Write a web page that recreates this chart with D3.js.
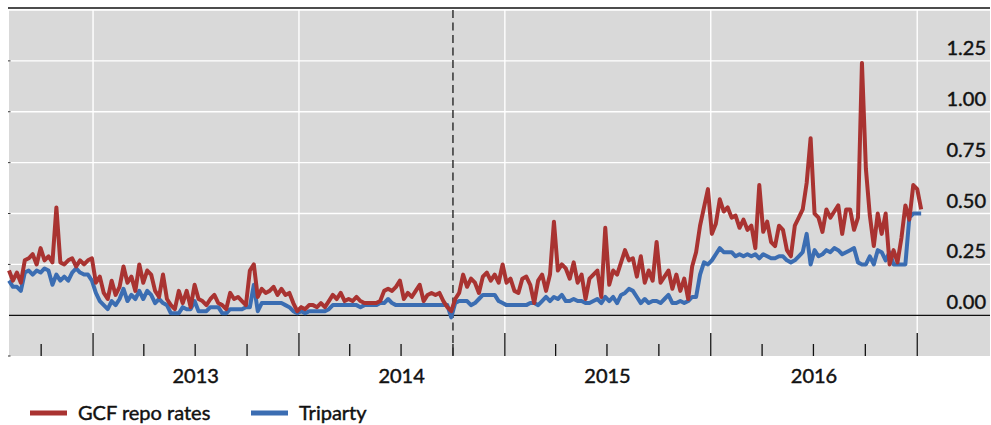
<!DOCTYPE html>
<html>
<head>
<meta charset="utf-8">
<script src="https://cdn.jsdelivr.net/npm/d3@7/dist/d3.min.js"></script>
<style>
  body { margin: 0; background: #fff; }
  text { font-family: Lato, 'Open Sans', sans-serif; fill: #111; stroke: #111; stroke-width: 0.45px; }
</style>
</head>
<body>
<div id="chart"></div>
<script>
// Weekly observations, first week starting 5 Aug 2012
const START = new Date(2012, 7, 5);

// GCF repo rates, %
const gcf2012 = [0.22, 0.17, 0.21, 0.16, 0.27, 0.28, 0.30, 0.25, 0.33, 0.27, 0.29, 0.26, 0.53, 0.26, 0.25, 0.27, 0.28, 0.24, 0.27, 0.25, 0.27];
const gcf2013 = [0.28, 0.16, 0.19, 0.11, 0.08, 0.17, 0.10, 0.14, 0.24, 0.16, 0.19, 0.12, 0.25, 0.16, 0.22, 0.20, 0.12, 0.09, 0.20, 0.08,
                 0.05, 0.03, 0.12, 0.06, 0.12, 0.04, 0.15, 0.08, 0.07, 0.05, 0.08, 0.10, 0.06, 0.05, 0.03, 0.11, 0.08, 0.09, 0.07, 0.05,
                 0.22, 0.25, 0.09, 0.13, 0.11, 0.12, 0.14, 0.10, 0.13, 0.10, 0.11, 0.06];
const gcf2014 = [0.02, 0.04, 0.03, 0.05, 0.05, 0.04, 0.06, 0.04, 0.07, 0.10, 0.08, 0.11, 0.07, 0.08, 0.07, 0.09, 0.07, 0.06, 0.06, 0.06,
                 0.06, 0.07, 0.12, 0.13, 0.12, 0.14, 0.17, 0.08, 0.11, 0.09, 0.12, 0.15, 0.07, 0.10, 0.11, 0.10, 0.11, 0.07, 0.04, 0.02,
                 0.08, 0.11, 0.20, 0.14, 0.18, 0.16, 0.11, 0.19, 0.21, 0.17, 0.20, 0.16];
const gcf2015 = [0.25, 0.16, 0.18, 0.12, 0.11, 0.18, 0.19, 0.15, 0.06, 0.17, 0.20, 0.12, 0.20, 0.46, 0.22, 0.25, 0.23, 0.18, 0.26, 0.16,
                 0.20, 0.08, 0.18, 0.20, 0.22, 0.09, 0.43, 0.15, 0.22, 0.20, 0.26, 0.32, 0.27, 0.28, 0.19, 0.29, 0.16, 0.22, 0.17, 0.36,
                 0.16, 0.19, 0.22, 0.13, 0.20, 0.12, 0.18, 0.08, 0.24, 0.31, 0.44, 0.53];
const gcf2016 = [0.62, 0.40, 0.45, 0.57, 0.51, 0.53, 0.48, 0.49, 0.43, 0.47, 0.42, 0.44, 0.33, 0.64, 0.41, 0.46, 0.36, 0.34, 0.44, 0.42,
                 0.32, 0.29, 0.44, 0.48, 0.52, 0.65, 0.87, 0.50, 0.48, 0.41, 0.52, 0.48, 0.51, 0.54, 0.40, 0.52, 0.52, 0.42, 0.48, 1.24,
                 0.72, 0.49, 0.34, 0.50, 0.40, 0.50, 0.25, 0.32, 0.26, 0.38, 0.54, 0.47];
const gcf2017 = [0.64, 0.62, 0.52];

// Triparty repo rates, %
const tri2012 = [0.17, 0.14, 0.14, 0.12, 0.21, 0.22, 0.20, 0.22, 0.21, 0.23, 0.22, 0.15, 0.20, 0.17, 0.19, 0.17, 0.21, 0.23, 0.21, 0.20, 0.20];
const tri2013 = [0.17, 0.11, 0.07, 0.05, 0.03, 0.07, 0.05, 0.08, 0.13, 0.07, 0.10, 0.08, 0.12, 0.08, 0.12, 0.10, 0.06, 0.08, 0.06, 0.05,
                 0.01, 0.01, 0.01, 0.04, 0.03, 0.03, 0.07, 0.02, 0.02, 0.02, 0.04, 0.04, 0.04, 0.01, 0.01, 0.03, 0.03, 0.03, 0.03, 0.04,
                 0.04, 0.15, 0.02, 0.06, 0.06, 0.06, 0.06, 0.06, 0.06, 0.05, 0.04, 0.02];
const tri2014 = [0.01, 0.02, 0.01, 0.02, 0.02, 0.02, 0.02, 0.02, 0.03, 0.05, 0.05, 0.05, 0.05, 0.05, 0.05, 0.05, 0.04, 0.05, 0.05, 0.05,
                 0.05, 0.06, 0.06, 0.08, 0.06, 0.05, 0.05, 0.05, 0.05, 0.05, 0.05, 0.05, 0.05, 0.05, 0.05, 0.05, 0.05, 0.05, 0.05, -0.01,
                 0.06, 0.07, 0.07, 0.07, 0.05, 0.06, 0.08, 0.10, 0.10, 0.10, 0.10, 0.07];
const tri2015 = [0.06, 0.05, 0.05, 0.05, 0.05, 0.05, 0.05, 0.06, 0.06, 0.05, 0.07, 0.09, 0.07, 0.09, 0.08, 0.10, 0.07, 0.07, 0.08, 0.07,
                 0.07, 0.06, 0.06, 0.07, 0.08, 0.06, 0.09, 0.07, 0.09, 0.06, 0.10, 0.11, 0.13, 0.12, 0.09, 0.06, 0.08, 0.06, 0.07, 0.07,
                 0.06, 0.08, 0.10, 0.06, 0.06, 0.07, 0.06, 0.07, 0.09, 0.09, 0.20, 0.26];
const tri2016 = [0.25, 0.27, 0.30, 0.33, 0.31, 0.31, 0.31, 0.29, 0.30, 0.29, 0.30, 0.29, 0.30, 0.28, 0.30, 0.29, 0.28, 0.28, 0.29, 0.29,
                 0.27, 0.26, 0.27, 0.29, 0.31, 0.40, 0.25, 0.32, 0.29, 0.30, 0.32, 0.31, 0.33, 0.32, 0.30, 0.31, 0.32, 0.33, 0.26, 0.25,
                 0.25, 0.29, 0.25, 0.32, 0.31, 0.27, 0.31, 0.25, 0.25, 0.25, 0.25, 0.48];
const tri2017 = [0.50, 0.50, 0.50];

const gcf = [].concat(gcf2012, gcf2013, gcf2014, gcf2015, gcf2016, gcf2017);
const triparty = [].concat(tri2012, tri2013, tri2014, tri2015, tri2016, tri2017);
const weeks = d3.timeWeek.range(START, d3.timeWeek.offset(START, gcf.length));

const yTicks = [0, 0.25, 0.5, 0.75, 1, 1.25];
const yearLabels = ['2013', '2014', '2015', '2016'];
const seriesNames = ['GCF repo rates', 'Triparty'];
const CUTOFF = new Date(2014, 9, 1);

const WIDTH = 991;
const HEIGHT = 425;
const RED = '#a93331';
const BLUE = '#3b6db2';

const svg = d3.select('#chart')
    .append('svg')
    .attr('width', WIDTH)
    .attr('height', HEIGHT);

const xScale = d3.scaleTime()
    .domain([new Date(2012, 7, 5), new Date(2017, 4, 10)])
    .range([9, 990]);

const yScale = d3.scaleLinear()
    .domain([-0.2, 1.5])
    .range([356, 10]);

const [x0, x1] = xScale.range();
const [yB, yT] = yScale.range();

// Top rule and plot background
svg.append('line')
    .attr('x1', 8).attr('x2', 990)
    .attr('y1', 8).attr('y2', 8)
    .attr('stroke', '#111').attr('stroke-width', 1.5);

svg.append('rect')
    .attr('x', x0).attr('y', yT)
    .attr('width', x1 - x0).attr('height', yB - yT)
    .attr('fill', '#d9d9d9');

// Gridlines
svg.selectAll('.hgrid')
    .data(yTicks.concat([1.5]).filter(d => d !== 0))
    .enter()
    .append('line')
    .attr('x1', x0).attr('x2', x1)
    .attr('y1', d => yScale(d)).attr('y2', d => yScale(d))
    .attr('stroke', '#fff').attr('stroke-width', 1.4);

const years = d3.timeYear.range(new Date(2013, 0, 1), new Date(2017, 0, 2));
svg.selectAll('.vgrid')
    .data(years)
    .enter()
    .append('line')
    .attr('x1', d => xScale(d)).attr('x2', d => xScale(d))
    .attr('y1', yT).attr('y2', yB)
    .attr('stroke', '#fff').attr('stroke-width', 1.4);

// small ticks on the left edge
svg.selectAll('.ltick')
    .data(yTicks.concat([-0.2]).filter(d => d !== 0))
    .enter()
    .append('line')
    .attr('x1', x0 - 1).attr('x2', x0 + 1.5)
    .attr('y1', d => yScale(d)).attr('y2', d => yScale(d))
    .attr('stroke', '#333').attr('stroke-width', 1);

// Zero line
svg.append('line')
    .attr('x1', x0).attr('x2', x1)
    .attr('y1', yScale(0)).attr('y2', yScale(0))
    .attr('stroke', '#111').attr('stroke-width', 1.2);

// Quarter and year ticks
const quarters = d3.timeMonth.every(3).range(new Date(2012, 9, 1), new Date(2017, 0, 2));
svg.selectAll('.xtick')
    .data(quarters)
    .enter()
    .append('line')
    .attr('x1', d => xScale(d)).attr('x2', d => xScale(d))
    .attr('y1', d => d.getMonth() === 0 ? yB - 23 : yB - 12)
    .attr('y2', yB)
    .attr('stroke', '#111').attr('stroke-width', 1.3);

// Cut-off date
svg.append('line')
    .attr('x1', xScale(CUTOFF)).attr('x2', xScale(CUTOFF))
    .attr('y1', yT).attr('y2', yB)
    .attr('stroke', '#333').attr('stroke-width', 1.5)
    .attr('stroke-dasharray', '8,4.5');

// Lines
const line = d3.line()
    .x((d, i) => xScale(weeks[i]))
    .y(d => yScale(d));

svg.append('path')
    .datum(triparty)
    .attr('d', line)
    .attr('fill', 'none')
    .attr('stroke', BLUE)
    .attr('stroke-width', 4)
    .attr('stroke-linejoin', 'round');

svg.append('path')
    .datum(gcf)
    .attr('d', line)
    .attr('fill', 'none')
    .attr('stroke', RED)
    .attr('stroke-width', 4)
    .attr('stroke-linejoin', 'round');

// Y labels on the right
svg.selectAll('.ylab')
    .data(yTicks)
    .enter()
    .append('text')
    .attr('x', 986)
    .attr('y', d => yScale(d) - 6)
    .attr('text-anchor', 'end')
    .attr('font-size', 20)
    .text(d => d3.format('.2f')(d));

// Year labels centred in each year
svg.selectAll('.xlab')
    .data(yearLabels)
    .enter()
    .append('text')
    .attr('x', d => xScale(new Date(+d, 6, 2)))
    .attr('y', 383)
    .attr('text-anchor', 'middle')
    .attr('font-size', 20)
    .text(d => d);

// Legend
const legend = svg.selectAll('.legend')
    .data(seriesNames)
    .enter()
    .append('g')
    .attr('transform', (d, i) => `translate(${[30, 251][i]},413)`);

legend.append('line')
    .attr('x1', 0).attr('x2', 37)
    .attr('stroke', (d, i) => [RED, BLUE][i])
    .attr('stroke-width', 5);

legend.append('text')
    .attr('x', 48)
    .attr('y', 7)
    .attr('font-size', 20)
    .text(d => d);
</script>
</body>
</html>
